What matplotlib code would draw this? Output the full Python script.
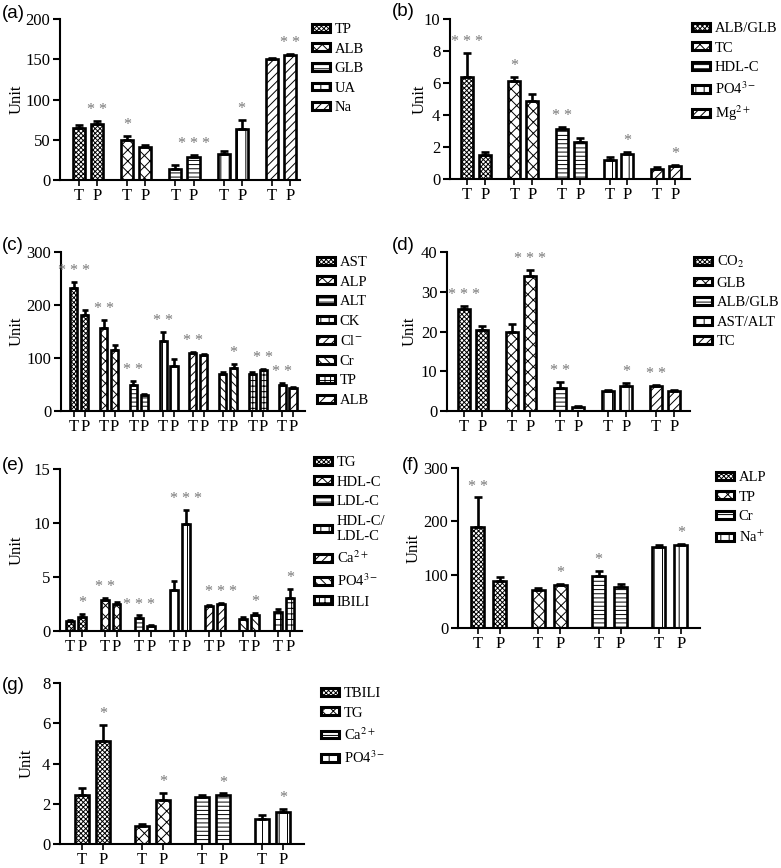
import numpy as np
import matplotlib.pyplot as plt
from matplotlib.patches import Patch

plt.rcParams['font.family'] = ['Liberation Serif', 'DejaVu Serif']
plt.rcParams['mathtext.fontset'] = 'stix'
plt.rcParams['hatch.linewidth'] = 0.7

W, H = 781, 868

# ---- data ----
a_labels = ['TP', 'ALB', 'GLB', 'UA', 'Na']
a_T = [65, 50, 14, 32, 150]
a_P = [70, 41, 29, 63, 155]
a_Terr = [3, 5, 5, 4, 2]
a_Perr = [3, 2, 2, 12, 2]
a_Tstar = ['', '*', '', '', '']
a_Pstar = ['**', '', '***', '*', '**']
a_yticks = [0, 50, 100, 150, 200]

b_labels = ['ALB/GLB', 'TC', 'HDL-C', 'PO4$^{3-}$', 'Mg$^{2+}$']
b_T = [6.4, 6.15, 3.1, 1.2, 0.65]
b_P = [1.5, 4.9, 2.3, 1.55, 0.8]
b_Terr = [1.5, 0.25, 0.15, 0.2, 0.08]
b_Perr = [0.2, 0.4, 0.25, 0.15, 0.1]
b_Tstar = ['***', '*', '**', '', '']
b_Pstar = ['', '', '', '*', '*']
b_yticks = [0, 2, 4, 6, 8, 10]

c_labels = ['AST', 'ALP', 'ALT', 'CK', 'Cl$^{-}$', 'Cr', 'TP', 'ALB']
c_T = [232, 157, 50, 133, 109, 70, 70, 50]
c_P = [182, 115, 30, 85, 106, 82, 77, 43]
c_Terr = [12, 15, 7, 17, 2, 4, 3, 3]
c_Perr = [8, 10, 3, 14, 2, 7, 3, 2]
c_Tstar = ['***', '**', '**', '**', '**', '', '', '**']
c_Pstar = ['', '', '', '', '', '*', '**', '']
c_yticks = [0, 100, 200, 300]

d_labels = ['CO$_2$', 'GLB', 'ALB/GLB', 'AST/ALT', 'TC']
d_T = [25.7, 19.8, 5.8, 5.0, 6.2]
d_P = [20.3, 34.0, 1.1, 6.3, 5.0]
d_Terr = [0.7, 2.0, 1.5, 0.4, 0.3]
d_Perr = [1.0, 1.5, 0.2, 0.7, 0.4]
d_Tstar = ['***', '', '**', '', '**']
d_Pstar = ['', '***', '', '*', '']
d_yticks = [0, 10, 20, 30, 40]

e_labels = ['TG', 'HDL-C', 'LDL-C', 'HDL-C/\nLDL-C', 'Ca$^{2+}$', 'PO4$^{3-}$', 'IBILI']
e_T = [0.9, 2.9, 1.25, 3.8, 2.3, 1.15, 1.75]
e_P = [1.3, 2.5, 0.45, 9.9, 2.5, 1.5, 3.1]
e_Terr = [0.1, 0.15, 0.2, 0.8, 0.1, 0.15, 0.25]
e_Perr = [0.25, 0.2, 0.1, 1.3, 0.1, 0.15, 0.8]
e_Tstar = ['', '**', '***', '', '', '', '']
e_Pstar = ['*', '', '', '***', '***', '*', '*']
e_yticks = [0, 5, 10, 15]

f_labels = ['ALP', 'TP', 'Cr', 'Na$^{+}$']
f_T = [190, 72, 97, 152]
f_P = [88, 80, 77, 155]
f_Terr = [55, 3, 10, 3]
f_Perr = [8, 3, 6, 3]
f_Tstar = ['**', '', '*', '']
f_Pstar = ['', '*', '', '*']
f_yticks = [0, 100, 200, 300]

g_labels = ['TBILI', 'TG', 'Ca$^{2+}$', 'PO4$^{3-}$']
g_T = [2.45, 0.9, 2.35, 1.25]
g_P = [5.1, 2.2, 2.45, 1.6]
g_Terr = [0.35, 0.08, 0.08, 0.2]
g_Perr = [0.8, 0.35, 0.07, 0.15]
g_Tstar = ['', '', '', '']
g_Pstar = ['*', '*', '*', '*']
g_yticks = [0, 2, 4, 6, 8]

# ---- hatches per series ----
DENSE, CHECK, HL, VL = 'xxxxxxx', 'xxx', '----', '||'
a_hatch = [DENSE, CHECK, HL, VL, '////']
b_hatch = [DENSE, CHECK, HL, VL, '////']
c_hatch = [DENSE, CHECK, HL, VL, '////', '\\\\\\\\', '+++', '///']
d_hatch = [DENSE, CHECK, HL, VL, '////']
e_hatch = [DENSE, CHECK, HL, VL, '////', '\\\\\\\\', '+++']
f_hatch = [DENSE, CHECK, HL, VL]
g_hatch = [DENSE, CHECK, HL, VL]

panels = [
    dict(tag='(a)', lab=a_labels, T=a_T, P=a_P, Te=a_Terr, Pe=a_Perr, Ts=a_Tstar, Ps=a_Pstar,
         yt=a_yticks, hatch=a_hatch, box=(60, 19, 300, 180), d=0.375, w=0.25, xl=(-0.396, 4.585),
         leg=(312, 23), tagpos=(2, 13), ylab=25, cap=3),
    dict(tag='(b)', lab=b_labels, T=b_T, P=b_P, Te=b_Terr, Pe=b_Perr, Ts=b_Tstar, Ps=b_Pstar,
         yt=b_yticks, hatch=b_hatch, box=(450, 19, 690, 179), d=0.375, w=0.25, xl=(-0.354, 4.69),
         leg=(692, 22), tagpos=(392, 12), ylab=428, cap=3),
    dict(tag='(c)', lab=c_labels, T=c_T, P=c_P, Te=c_Terr, Pe=c_Perr, Ts=c_Tstar, Ps=c_Pstar,
         yt=c_yticks, hatch=c_hatch, box=(61, 252, 305, 411), d=0.367, w=0.24, xl=(-0.433, 7.77),
         leg=(317, 256), tagpos=(2, 245), ylab=25, cap=2),
    dict(tag='(d)', lab=d_labels, T=d_T, P=d_P, Te=d_Terr, Pe=d_Perr, Ts=d_Tstar, Ps=d_Pstar,
         yt=d_yticks, hatch=d_hatch, box=(447, 252, 690, 411), d=0.375, w=0.25, xl=(-0.354, 4.71),
         leg=(694, 254), tagpos=(392, 245), ylab=418, cap=3),
    dict(tag='(e)', lab=e_labels, T=e_T, P=e_P, Te=e_Terr, Pe=e_Perr, Ts=e_Tstar, Ps=e_Pstar,
         yt=e_yticks, hatch=e_hatch, box=(60, 469, 302, 631), d=0.343, w=0.23, xl=(-0.286, 6.69),
         leg=(314, 456), tagpos=(2, 466), ylab=25, cap=2),
    dict(tag='(f)', lab=f_labels, T=f_T, P=f_P, Te=f_Terr, Pe=f_Perr, Ts=f_Tstar, Ps=f_Pstar,
         yt=f_yticks, hatch=f_hatch, box=(458, 468, 700, 628), d=0.364, w=0.215, xl=(-0.33, 3.68),
         leg=(716, 471), tagpos=(402, 465), ylab=422, cap=3),
    dict(tag='(g)', lab=g_labels, T=g_T, P=g_P, Te=g_Terr, Pe=g_Perr, Ts=g_Tstar, Ps=g_Pstar,
         yt=g_yticks, hatch=g_hatch, box=(60, 683, 304, 844), d=0.35, w=0.22, xl=(-0.367, 3.7),
         leg=(321, 687), tagpos=(2, 686), ylab=35, cap=3),
]

fig = plt.figure(figsize=(W / 100, H / 100), dpi=100)

for p in panels:
    l, t, r, b = p['box']
    ax = fig.add_axes([l / W, 1 - b / H, (r - l) / W, (b - t) / H])
    n = len(p['lab'])
    xs = np.arange(n)
    ticks, ticklabels = [], []
    for i in range(n):
        for x, v, e, s in [(xs[i], p['T'][i], p['Te'][i], p['Ts'][i]),
                           (xs[i] + p['d'], p['P'][i], p['Pe'][i], p['Ps'][i])]:
            ax.bar(x, v, width=p['w'], color='white', edgecolor='black',
                   linewidth=1.9, hatch=p['hatch'][i], zorder=2)
            ax.errorbar(x, v, yerr=[[0], [e]], fmt='none', ecolor='black',
                        elinewidth=1.9, capsize=p['cap'], capthick=1.9, zorder=3)
            if s:
                ax.annotate(' '.join(s), (x, v + e), xytext=(0, 2), textcoords='offset points',
                            ha='center', va='bottom', fontsize=11.5, color='#777777')
        ticks += [xs[i], xs[i] + p['d']]
        ticklabels += ['T', 'P']
    ax.set_xticks(ticks)
    ax.set_xticklabels(ticklabels, fontsize=12)
    ax.set_xlim(*p['xl'])
    ax.set_ylim(0, p['yt'][-1])
    ax.set_yticks(p['yt'])
    ax.tick_params(axis='y', labelsize=12, length=5, width=1.5, pad=2)
    ax.tick_params(axis='x', length=4, width=1.2, pad=2)
    for side in ['top', 'right']:
        ax.spines[side].set_visible(False)
    for side in ['left', 'bottom']:
        ax.spines[side].set_linewidth(1.5)
    ax.set_ylabel('Unit', fontsize=12)
    ax.yaxis.set_label_coords((p['ylab'] - l) / (r - l), 0.5)

    handles = [Patch(facecolor='white', edgecolor='black', linewidth=2.2, hatch=h)
               for h in p['hatch']]
    ax.legend(handles, p['lab'], loc='upper left',
              bbox_to_anchor=(p['leg'][0] / W, 1 - p['leg'][1] / H),
              bbox_transform=fig.transFigure, frameon=False, borderpad=0,
              borderaxespad=0, handlelength=1.2, handleheight=0.45,
              handletextpad=0.35, labelspacing=0.45, fontsize=10.5)

    fig.text(p['tagpos'][0] / W, 1 - p['tagpos'][1] / H, p['tag'],
             family='Liberation Sans', fontsize=13.5, va='center', ha='left')

fig.savefig('out.png', dpi=100)
